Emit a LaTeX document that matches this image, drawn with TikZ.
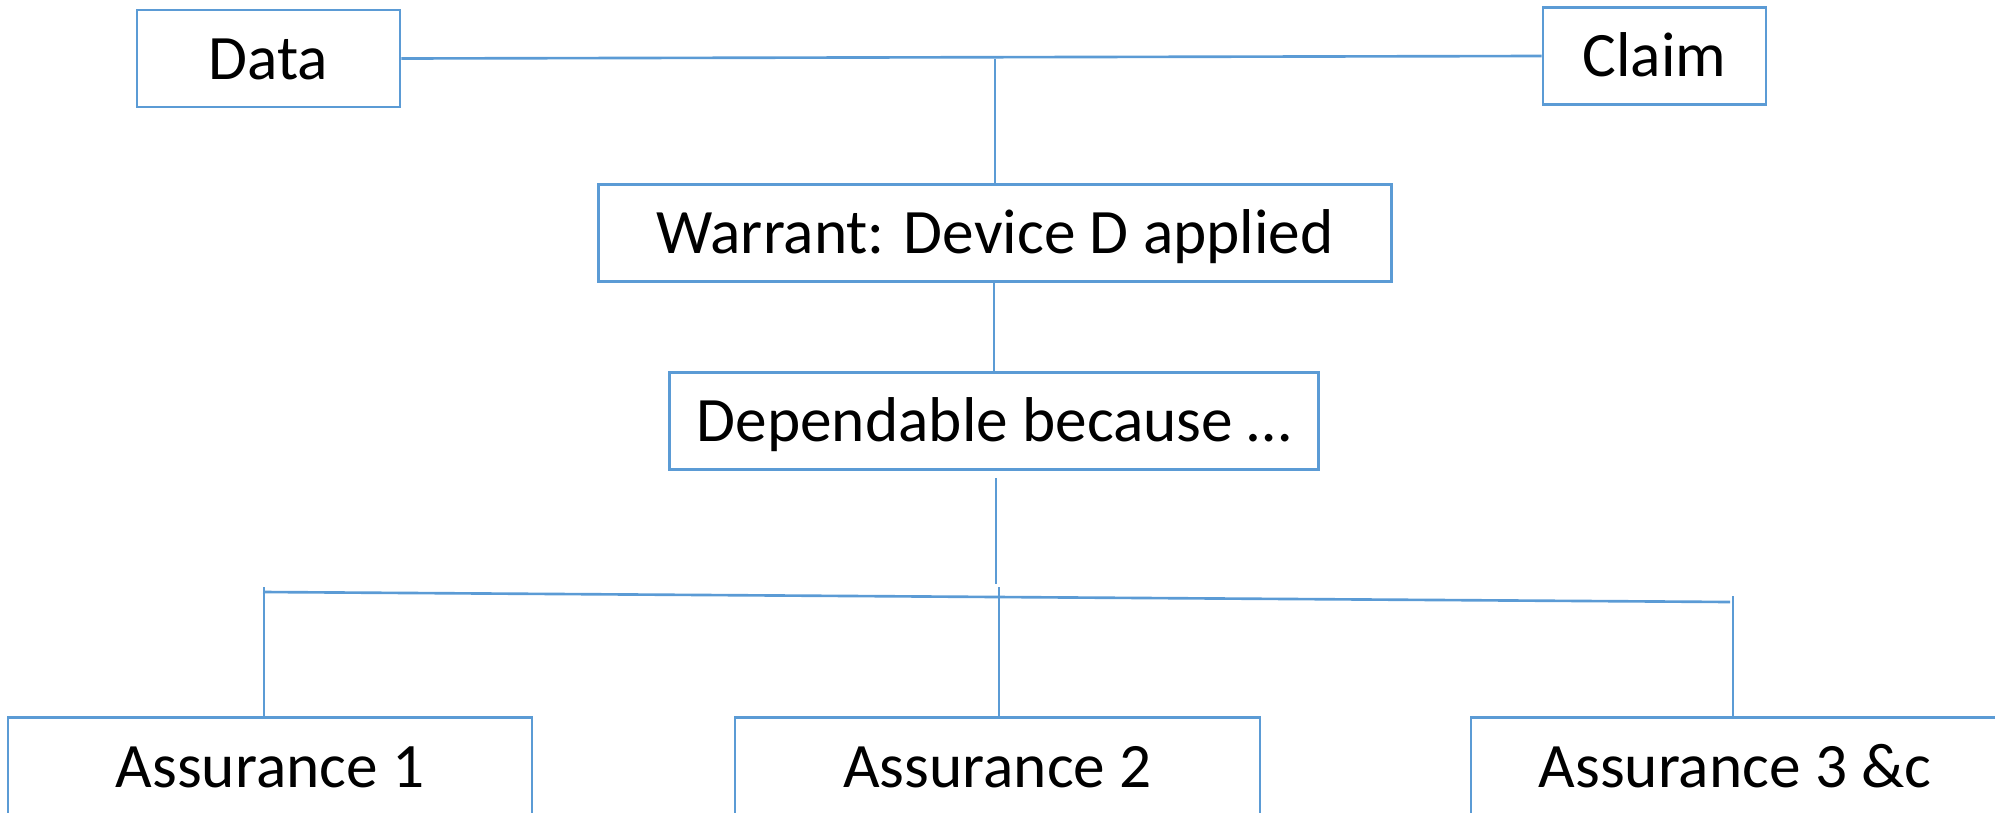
\documentclass[tikz,border=0pt]{standalone}
\usepackage{fontspec}
\setmainfont{Carlito}
\usepackage{tikz}

\definecolor{lineblue}{RGB}{91,155,213}

\begin{document}
\begin{tikzpicture}[x=0.01cm,y=-0.01cm,
    box/.style={draw=lineblue,line width=0.75pt,inner sep=0pt,
        minimum height=0.97cm,text height=0.41cm,text depth=0pt,
        font=\fontsize{18}{22}\selectfont},
    link/.style={draw=lineblue,line width=0.75pt}]
        \useasboundingbox (0,0) rectangle (1995,812);
        % 上层: 数据与结论
        \node[box,minimum width=2.63cm](data)at(268.5,58.5){Data};
        \node[box,minimum width=2.23cm](claim)at(1654.5,56){Claim};
        \draw[link](data.east)--(claim.west);
        % 中间: 依据
        \node[box,minimum width=7.93cm](warrant)at(995,233){Warrant: Device D applied};
        \node[box,minimum width=6.49cm](dep)at(994,421){Dependable because …};
        \draw[link](warrant.north)--(warrant.north |- data.east);
        \draw[link](warrant.south)--(dep.south |- warrant.south)--(dep.north);
        % 下层: 各项保证
        \node[box,minimum width=5.24cm,minimum height=1cm,anchor=north](a1)at(270,716){Assurance 1};
        \node[box,minimum width=5.25cm,minimum height=1cm,anchor=north](a2)at(997.5,716){Assurance 2};
        \node[box,minimum width=5.28cm,minimum height=1cm,anchor=north](a3)at(1735,716){Assurance 3 \&c};
        \coordinate(stemtop)at(996,478);
        \coordinate(stem)at(996,584);
        \coordinate(busL)at(263,592);
        \coordinate(busR)at(1730,602);
        \coordinate(tick1)at(264,587);
        \coordinate(tick2)at(999,587);
        \coordinate(tick3)at(1733,596);
        \draw[link](stemtop)--(stem);
        \draw[link](busL)--(busR);
        \draw[link](tick1)--(tick1 |- a1.north);
        \draw[link](tick2)--(tick2 |- a2.north);
        \draw[link](tick3)--(tick3 |- a3.north);
    \end{tikzpicture}
\end{document}
